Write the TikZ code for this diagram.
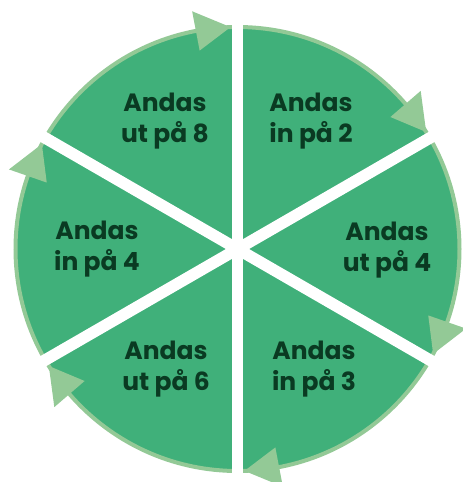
\documentclass[tikz,border=0pt]{standalone}
\usepackage{fontspec}
\setmainfont{Poppins}
\usepackage{tikz}
\usetikzlibrary{positioning}

\definecolor{slicegreen}{RGB}{64,176,122}
\definecolor{rimgreen}{RGB}{147,201,150}
\definecolor{textgreen}{RGB}{10,58,34}

\begin{document}
\begin{tikzpicture}[x=1pt,y=1pt]

\tikzstyle{every node}=[font=\fontsize{25}{30.5}\selectfont\bfseries, text=textgreen, align=center]

\useasboundingbox (0,0) rectangle (463,-482);

% wheel %
\coordinate (c) at (237.5,-249);
\fill[slicegreen] (c) circle (222);
\draw[rimgreen, line width=4] (c) circle (222);

% gaps and arrow tips %
\begin{scope}[shift={(c)}]
\foreach \a in {90,30,-30,-90,-150,150}
{
  \draw[white, line width=11.6] (0,0) -- (\a:240);
  \fill[rimgreen] ({\a+1.8}:222) -- ({\a+10.8}:242) -- ({\a+10.8}:202) -- cycle;
}
\end{scope}

% labels %
\node (out8) at (165,-121) {Andas\\ut på 8};
\node (in2) at (311,-121) {Andas\\in på 2};
\node (out4) at (387,-250) {Andas\\ut på 4};
\node (in4) at (97,-249) {Andas\\in på 4};
\node (out6) at (166,-369) {Andas\\ut på 6};
\node (in3) at (314,-369) {Andas\\in på 3};

\end{tikzpicture}
\end{document}
